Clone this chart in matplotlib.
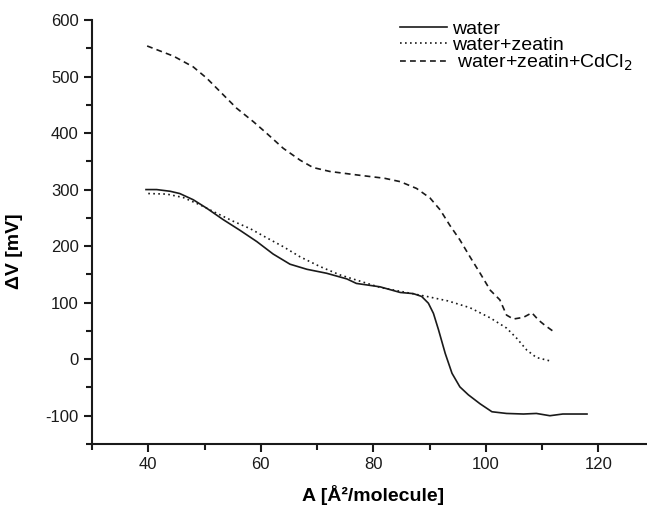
import matplotlib
matplotlib.use('Agg')
import matplotlib.pyplot as plt
from matplotlib.ticker import MultipleLocator

plt.rcParams['font.family'] = ['Liberation Sans', 'DejaVu Sans']
plt.rcParams['axes.unicode_minus'] = False

# water
water_x = [39.6, 41.5, 43.9, 45.6, 48.0, 50.4, 53.3, 56.3, 59.3, 62.2, 65.2, 68.2, 71.7, 75.3,
           77.0, 81.2, 84.8, 87.1, 88.6, 89.8, 90.7, 91.6, 92.8, 94.0, 95.4, 96.9, 99.0,
           101.1, 103.7, 106.7, 109.0, 111.4, 113.7, 118.0]
water_y = [300, 300, 297, 293, 282, 267, 247, 228, 208, 186, 168, 159, 152, 142,
           134, 128, 118, 116, 111, 99, 81, 52, 10, -25, -49, -63, -79,
           -93, -96, -97, -96, -100, -97, -97]

# water + zeatin
zeatin_x = [40.0, 43.3, 46.2, 49.2, 52.2, 55.1, 58.1, 61.0, 64.0, 67.0, 70.5, 74.1, 81.2,
            89.5, 93.3, 97.2, 100.8, 103.7, 105.5, 107.3, 109.0, 111.4]
zeatin_y = [293, 292, 286, 273, 258, 244, 231, 215, 199, 181, 164, 149, 127,
            111, 103, 91, 73, 55, 37, 16, 3, -3]

# water + zeatin + CdCl2
cd_x = [39.8, 44.5, 48.0, 50.4, 52.8, 55.7, 58.7, 61.0, 64.0, 67.0, 69.3, 72.3, 77.0,
        82.0, 84.8, 87.7, 90.1, 91.9, 93.6, 95.4, 97.2, 99.0, 100.8, 102.5, 103.7,
        104.9, 106.7, 108.2, 109.4, 110.5, 111.9]
cd_y = [554, 536, 517, 497, 473, 444, 420, 400, 373, 352, 339, 332, 326,
        320, 314, 302, 285, 264, 237, 211, 181, 152, 122, 105, 78,
        71, 74, 82, 69, 60, 50]

labels = ['water', 'water+zeatin', ' water+zeatin+CdCl$_2$']

fig = plt.figure(figsize=(6.47, 5.07), dpi=100)
ax = fig.add_axes([0.1422, 0.1243, 0.8694, 0.8363])

ax.plot(water_x, water_y, color='#1a1a1a', lw=1.2, ls='-', label=labels[0])
ax.plot(zeatin_x, zeatin_y, color='#1a1a1a', lw=1.2, ls=(0, (1, 2)), label=labels[1])
ax.plot(cd_x, cd_y, color='#1a1a1a', lw=1.2, ls=(0, (3.5, 2.5)), label=labels[2])

ax.set_xlim(30, 130)
ax.set_ylim(-150, 600)
ax.xaxis.set_major_locator(MultipleLocator(20))
ax.xaxis.set_minor_locator(MultipleLocator(10))
ax.yaxis.set_major_locator(MultipleLocator(100))
ax.yaxis.set_minor_locator(MultipleLocator(50))

for s in ['top', 'right']:
    ax.spines[s].set_visible(False)
for s in ['left', 'bottom']:
    ax.spines[s].set_linewidth(1.5)
    ax.spines[s].set_color('#1a1a1a')

ax.tick_params(which='major', direction='out', length=6, width=1.5, labelsize=12, colors='#1a1a1a')
ax.tick_params(which='minor', direction='out', length=4, width=1.5, colors='#1a1a1a')

ax.set_xlabel('A [Å²/molecule]', fontsize=14, fontweight='bold', labelpad=9)
ax.set_ylabel('ΔV [mV]', fontsize=14, fontweight='bold', labelpad=8)
ax.yaxis.set_label_coords(-0.122, 0.455)

ax.legend(loc='upper left', bbox_to_anchor=(400 / 647, 1 - 20 / 507), bbox_transform=fig.transFigure,
          frameon=False, fontsize=14, handlelength=2.4, handletextpad=0.27,
          labelspacing=-0.06, borderpad=0, borderaxespad=0)

fig.savefig('out.png', dpi=100)
